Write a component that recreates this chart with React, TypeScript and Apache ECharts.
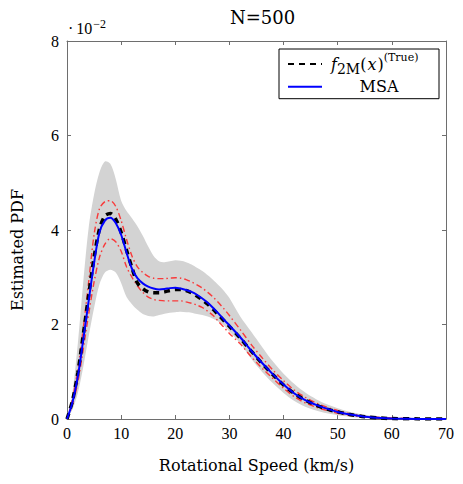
import React, { useEffect, useRef } from "react";
import * as echarts from "echarts";

// Rotational speed grid (km/s)
const speeds = [
  0, 1, 2, 3, 4, 5, 6, 7, 8, 9, 10, 11, 12, 13, 14, 15, 16, 17, 18, 19, 20,
  21, 22, 23, 24, 25, 26, 27, 28, 29, 30, 32, 34, 36, 38, 40, 42, 44, 46, 48,
  50, 52, 55, 58, 60, 65, 70,
];

// f_2M(x)^(True)
const trueVals = [
  0, 0.0038, 0.0098, 0.0178, 0.0262, 0.0342, 0.0402, 0.043, 0.0435, 0.0423,
  0.0395, 0.0357, 0.032, 0.0288, 0.0276, 0.0269, 0.0267, 0.0267, 0.0269,
  0.0272, 0.0274, 0.0274, 0.0272, 0.0267, 0.026, 0.0252, 0.0243, 0.0232,
  0.022, 0.0208, 0.0196, 0.0171, 0.0144, 0.0118, 0.0094, 0.0072, 0.0054,
  0.004, 0.0029, 0.0021, 0.0015, 0.001, 0.0005, 0.0002, 0.0001, 0.00002, 0,
];

// MSA estimate
const msaVals = [
  0, 0.0035, 0.009, 0.0168, 0.025, 0.033, 0.0395, 0.042, 0.0426, 0.0415,
  0.039, 0.0352, 0.0318, 0.0298, 0.0287, 0.028, 0.0276, 0.0274, 0.0275,
  0.0277, 0.0278, 0.0276, 0.0273, 0.0269, 0.0263, 0.0255, 0.0246, 0.0235,
  0.0223, 0.021, 0.0198, 0.0173, 0.0145, 0.0119, 0.0095, 0.0073, 0.0054,
  0.004, 0.003, 0.0022, 0.0015, 0.001, 0.0005, 0.0002, 0.0001, 0.00002, 0,
];

// Red dash-dotted bounds
const ciUpper = [
  0, 0.0042, 0.0105, 0.0192, 0.029, 0.039, 0.0445, 0.046, 0.0462, 0.045,
  0.042, 0.038, 0.0345, 0.0322, 0.031, 0.0302, 0.0298, 0.0297, 0.0297,
  0.0298, 0.0299, 0.0298, 0.0295, 0.029, 0.0284, 0.0277, 0.0268, 0.0258,
  0.0246, 0.0233, 0.0219, 0.0189, 0.0158, 0.013, 0.0104, 0.0081, 0.0061,
  0.0046, 0.0034, 0.0025, 0.0018, 0.0012, 0.0006, 0.0003, 0.0002, 0.00005, 0,
];
const ciLower = [
  0, 0.003, 0.0078, 0.0148, 0.0222, 0.029, 0.0342, 0.037, 0.0382, 0.0375,
  0.0355, 0.0322, 0.03, 0.0282, 0.0268, 0.0258, 0.0253, 0.0251, 0.025, 0.025,
  0.025, 0.025, 0.0248, 0.0245, 0.0241, 0.0236, 0.0228, 0.0219, 0.0206,
  0.0194, 0.0181, 0.0159, 0.0132, 0.0108, 0.0086, 0.0065, 0.0047, 0.0034,
  0.0025, 0.0018, 0.0012, 0.0008, 0.0004, 0.0001, 0.0001, 0, 0,
];

// Gray band
const bandUpper = [
  0, 0.0055, 0.016, 0.029, 0.0405, 0.0475, 0.0522, 0.0545, 0.054, 0.0508,
  0.0462, 0.044, 0.0425, 0.0408, 0.0388, 0.0365, 0.0345, 0.0334, 0.0332,
  0.0334, 0.0336, 0.0335, 0.0332, 0.0327, 0.032, 0.0313, 0.0304, 0.0294,
  0.0283, 0.0271, 0.0256, 0.0217, 0.0185, 0.0153, 0.0122, 0.0096, 0.0074,
  0.0056, 0.0042, 0.0031, 0.0023, 0.0016, 0.0009, 0.0005, 0.0003, 0.0001, 0,
];
const bandLower = [
  0, 0.002, 0.0055, 0.011, 0.0175, 0.0235, 0.0285, 0.031, 0.0316, 0.031,
  0.0288, 0.0258, 0.0243, 0.0231, 0.0222, 0.0218, 0.0217, 0.022, 0.0223,
  0.0225, 0.0226, 0.0227, 0.0226, 0.0225, 0.0222, 0.022, 0.0217, 0.0212,
  0.0206, 0.0198, 0.0185, 0.016, 0.0128, 0.01, 0.0076, 0.0055, 0.0038, 0.0026,
  0.0018, 0.0012, 0.0008, 0.0005, 0.0002, 0.0001, 0, 0, 0,
];

const TRUE_NAME = "f2M(x)(True)";
const MSA_NAME = "MSA";

const FRAME = "#6e6e6e";
const SERIF = "DejaVu Serif";
const TICKFONT = "Liberation Serif";
const RED = "rgba(255,30,30,0.85)";

export default function App() {
  const ref = useRef<HTMLDivElement>(null);

  useEffect(() => {
    if (!ref.current) return;
    const chart = echarts.init(ref.current, null, { renderer: "svg" });
    const pair = (ys: number[]) => speeds.map((x, i) => [x, ys[i]]);

    const axisCommon = {
      axisLine: { show: true, onZero: false, lineStyle: { color: FRAME, width: 1 } },
      axisTick: { show: true, inside: true, length: 4, lineStyle: { color: FRAME, width: 1 } },
      splitLine: { show: false },
    };

    const option: any = {
      animation: false,
      title: {
        text: "N=500",
        left: 225,
        top: 3,
        textStyle: { fontFamily: SERIF, fontSize: 18, fontWeight: "normal", color: "#000" },
      },
      grid: { left: 67, right: 17, top: 41, bottom: 65, containLabel: false },
      xAxis: [
        {
          type: "value",
          min: 0,
          max: 70,
          interval: 10,
          position: "bottom",
          ...axisCommon,
          axisLabel: { fontFamily: TICKFONT, fontSize: 16, color: "#000", margin: 6 },
          name: "Rotational Speed (km/s)",
          nameLocation: "middle",
          nameGap: 38,
          nameTextStyle: { fontFamily: SERIF, fontSize: 16, color: "#000" },
        },
        {
          type: "value",
          min: 0,
          max: 70,
          interval: 10,
          position: "top",
          ...axisCommon,
          axisLabel: { show: false },
        },
      ],
      yAxis: [
        {
          type: "value",
          min: 0,
          max: 0.08,
          interval: 0.02,
          position: "left",
          ...axisCommon,
          axisLabel: {
            fontFamily: TICKFONT,
            fontSize: 16,
            color: "#000",
            margin: 8,
            formatter: (v: number) => String(Math.round(v * 100)),
          },
        },
        {
          type: "value",
          min: 0,
          max: 0.08,
          interval: 0.02,
          position: "right",
          ...axisCommon,
          axisLabel: { show: false },
        },
      ],
      legend: {
        data: [TRUE_NAME, MSA_NAME],
        orient: "vertical",
        left: 279,
        top: 49,
        padding: [3, 8, 4, 8],
        itemGap: 2.7,
        itemWidth: 34,
        itemHeight: 14,
        itemStyle: { opacity: 0 },
        backgroundColor: "#fff",
        borderColor: "#000",
        borderWidth: 1,
        borderRadius: 0,
        formatter: (name: string) =>
          name === MSA_NAME
            ? "{c|MSA}"
            : "{pad|}{it|f}{sub|2M}{rm|(}{itx|x}{rm|)}{sup|(True)}",
        textStyle: {
          fontFamily: SERIF,
          fontSize: 16,
          color: "#000",
          rich: {
            c: { width: 104, align: "center", fontFamily: SERIF, fontSize: 16, lineHeight: 24 },
            pad: { width: 4, lineHeight: 24 },
            it: { fontFamily: SERIF, fontStyle: "italic", fontSize: 16, lineHeight: 24 },
            itx: { fontFamily: SERIF, fontStyle: "italic", fontSize: 16, lineHeight: 24, padding: [0, 1, 0, 1] },
            rm: { fontFamily: SERIF, fontSize: 16, lineHeight: 24 },
            sub: { fontFamily: SERIF, fontSize: 14, lineHeight: 16, verticalAlign: "bottom" },
            sup: { fontFamily: SERIF, fontSize: 11, lineHeight: 8, verticalAlign: "top" },
          },
        },
      },
      graphic: [
        {
          type: "text",
          left: 67,
          top: 18,
          style: {
            text: "{d|·}{a|10}{b|−2}",
            rich: {
              d: { fontFamily: TICKFONT, fontSize: 16, lineHeight: 18, verticalAlign: "bottom", padding: [0, 3, 0, 1], fill: "#000" },
              a: { fontFamily: TICKFONT, fontSize: 16, lineHeight: 18, verticalAlign: "bottom", fill: "#000" },
              b: { fontFamily: TICKFONT, fontSize: 12, lineHeight: 10, verticalAlign: "top", padding: [0, 0, 0, 1], fill: "#000" },
            },
          },
        },
        {
          type: "text",
          x: 17,
          y: 250,
          rotation: Math.PI / 2,
          style: {
            text: "Estimated PDF",
            fontFamily: SERIF,
            fontSize: 16,
            fill: "#000",
            align: "center",
            verticalAlign: "middle",
          },
        },
      ],
      series: [
        {
          name: "band",
          type: "custom",
          data: [[0, 0]],
          silent: true,
          z: 1,
          renderItem: (_params: any, api: any) => {
            const up = speeds.map((x, i) => api.coord([x, bandUpper[i]]));
            const lo = speeds.map((x, i) => api.coord([x, bandLower[i]])).reverse();
            return {
              type: "polygon",
              shape: { points: up.concat(lo), smooth: 0.3 },
              style: { fill: "#d3d3d3", stroke: "none" },
            };
          },
        },
        {
          name: "ciUpper",
          type: "line",
          data: pair(ciUpper),
          symbol: "none",
          smooth: 0.3,
          silent: true,
          lineStyle: { color: RED, width: 1.4, type: [6, 3, 1.5, 3] },
          z: 2,
        },
        {
          name: "ciLower",
          type: "line",
          data: pair(ciLower),
          symbol: "none",
          smooth: 0.3,
          silent: true,
          lineStyle: { color: RED, width: 1.4, type: [6, 3, 1.5, 3] },
          z: 2,
        },
        {
          name: TRUE_NAME,
          type: "line",
          data: pair(trueVals),
          symbol: "none",
          smooth: 0.3,
          color: "#000",
          lineStyle: { color: "#000", width: 3.5, type: [6, 5] },
          z: 3,
        },
        {
          name: MSA_NAME,
          type: "line",
          data: pair(msaVals),
          symbol: "none",
          smooth: 0.3,
          color: "#0000ff",
          lineStyle: { color: "#0000ff", width: 2 },
          z: 4,
        },
      ],
    };

    chart.setOption(option);
    return () => chart.dispose();
  }, []);

  return (
    <div
      ref={ref}
      style={{ position: "absolute", left: 0, top: 0, width: 463, height: 484 }}
    />
  );
}
